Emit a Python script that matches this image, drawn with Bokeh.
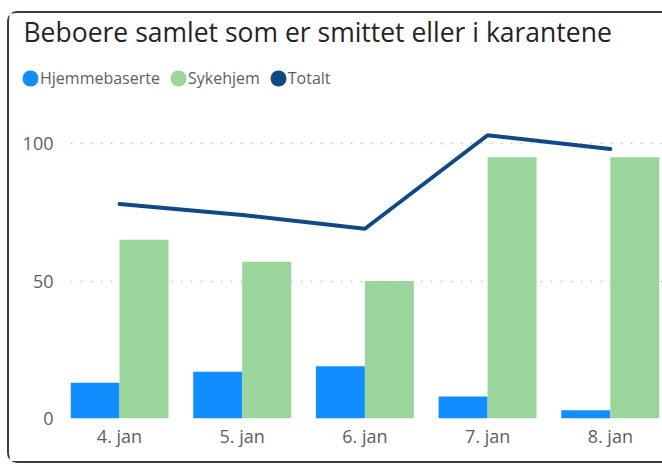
from bokeh.plotting import figure
from bokeh.layouts import column
from bokeh.models import (Range1d, FixedTicker, Legend, LegendItem, Label, ColumnDataSource)
from bokeh.transform import dodge
from bokeh.embed import file_html
from bokeh.resources import INLINE

# ---- data ----
dates = ["4. jan", "5. jan", "6. jan", "7. jan", "8. jan"]
hjemmebaserte = [13, 17, 19, 8, 3]
sykehjem = [65, 57, 50, 95, 95]
totalt = [78, 74, 69, 103, 98]
y_ticks = [0, 50, 100]

title_text = "Beboere samlet som er smittet eller i karantene"
series_names = ["Hjemmebaserte", "Sykehjem", "Totalt"]

# ---- styles ----
C_BLUE = "#118DFF"
C_GREEN = "#9BD59B"
C_NAVY = "#0F4A85"
C_TEXT = "#605E5C"
C_TITLE = "#252423"
FONT = "Open Sans"

W = 653
HH = 97            # header height (title + legend)
H = 351            # chart height
FL, FB = 61, 308   # chart frame left, frame bottom (canvas px)

xs = list(range(len(dates)))
src = ColumnDataSource(dict(x=xs, hjem=hjemmebaserte, syk=sykehjem, tot=totalt))

# ---------------- header: title + legend ----------------
# the header's own data window lies away from the series, so the
# swatch renderers below only show up inside the legend
hp = figure(width=W, height=HH, output_backend="svg", toolbar_location=None,
            x_range=Range1d(-2000, -2000 + W), y_range=Range1d(-2000, -2000 + HH),
            x_axis_location=None, y_axis_location=None, min_border=0,
            min_border_left=0, min_border_right=0, min_border_top=0,
            min_border_bottom=0)
if "frame_align" in hp.properties():
    hp.frame_align = False
hp.grid.visible = False
hp.outline_line_color = None
hp.background_fill_color = "white"
hp.border_fill_color = "white"

swatches = []
for col, c in (("hjem", C_BLUE), ("syk", C_GREEN), ("tot", C_NAVY)):
    swatches.append(hp.ellipse(x="x", y=col, source=src, width=10, height=10,
                               width_units="screen", height_units="screen",
                               fill_color=c, line_color=None))
legend = Legend(items=[LegendItem(label=n, renderers=[r])
                       for n, r in zip(series_names, swatches)],
                orientation="horizontal", location=(11, 21.5),
                glyph_width=20, glyph_height=20, label_standoff=0,
                spacing=8, padding=0, margin=0,
                background_fill_alpha=0, border_line_alpha=0,
                label_text_font=FONT, label_text_font_size="16px",
                label_text_color=C_TEXT)
hp.add_layout(legend, "center")

hp.add_layout(Label(x=14, y=HH - 30.3 + 12, x_units="screen", y_units="screen",
                    text=title_text, text_font=FONT, text_font_size="26.5px",
                    text_color=C_TITLE, text_baseline="alphabetic"))

# ---------------- chart ----------------
p = figure(width=W, height=H, output_backend="svg", toolbar_location=None,
           x_range=Range1d(-0.3993, 4.4254), y_range=Range1d(0, 112.0),
           min_border_left=FL, min_border_right=0, min_border_top=0,
           min_border_bottom=H - FB)
if "frame_align" in p.properties():
    p.frame_align = False
p.outline_line_color = None
p.background_fill_color = "white"
p.border_fill_color = "white"

bw = 0.3993
p.vbar(x=dodge("x", -bw / 2), top="hjem", width=bw, source=src,
       fill_color=C_BLUE, line_color=None)
p.vbar(x=dodge("x", bw / 2), top="syk", width=bw, source=src,
       fill_color=C_GREEN, line_color=None)
p.line(x="x", y="tot", source=src, line_color=C_NAVY, line_width=4,
       line_cap="round", line_join="round")

p.xaxis.ticker = FixedTicker(ticks=xs)
p.xaxis.major_label_overrides = {i: d for i, d in enumerate(dates)}
p.yaxis.ticker = FixedTicker(ticks=y_ticks)
for ax in (p.xaxis[0], p.yaxis[0]):
    ax.axis_line_color = None
    ax.major_tick_line_color = None
    ax.minor_tick_line_color = None
    ax.major_tick_out = 0
    ax.major_tick_in = 0
    ax.major_label_text_font = FONT
    ax.major_label_text_font_size = "18px"
    ax.major_label_text_color = C_TEXT
p.xaxis.major_label_standoff = 5
p.yaxis.major_label_standoff = 17

p.xgrid.grid_line_color = None
p.ygrid.ticker = FixedTicker(ticks=y_ticks)
p.ygrid.grid_line_color = "#C8C8C8"
p.ygrid.grid_line_dash = "2 8"
p.ygrid.grid_line_width = 1.5

layout = column(hp, p, spacing=0,
                styles={"margin-left": "7px", "margin-top": "11px",
                        "border": "2px solid #3C3C3C", "border-right": "none",
                        "border-radius": "10px 0 0 10px"})

open("out.html", "w").write(file_html(layout, INLINE))
